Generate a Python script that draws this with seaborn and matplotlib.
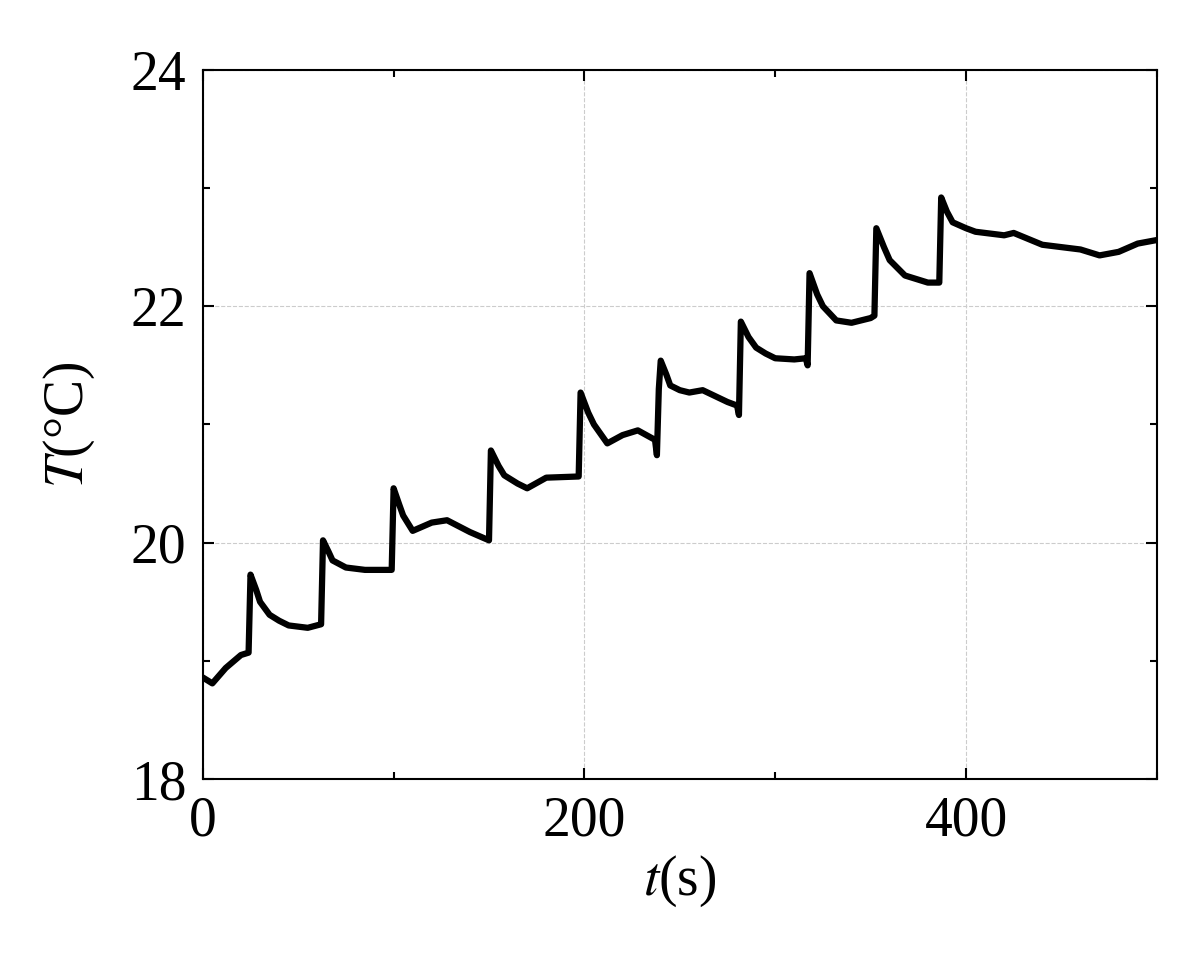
import matplotlib
matplotlib.use("Agg")
import matplotlib.pyplot as plt
import seaborn as sns
import pandas as pd
from matplotlib.ticker import MultipleLocator

t = [0,5,12,20,24,25,28,30,35,40,45,55,62,63,66,68,75,85,95,99,100,103,105,110,120,128,140,150,151,155,158,165,170,180,197,198,202,205,212,220,228,237,238,239,240,243,245,250,255,262,275,280,281,282,286,290,295,300,310,316,317,318,322,325,332,340,350,352,353,357,360,368,380,386,387,390,393,400,405,420,425,440,460,470,480,490,500]
T = [18.86,18.81,18.94,19.05,19.07,19.73,19.6,19.5,19.39,19.34,19.3,19.28,19.31,20.02,19.92,19.85,19.79,19.77,19.77,19.77,20.46,20.32,20.23,20.1,20.17,20.19,20.09,20.02,20.78,20.65,20.57,20.5,20.46,20.55,20.56,21.27,21.1,21.0,20.84,20.91,20.95,20.87,20.74,21.3,21.54,21.42,21.33,21.29,21.27,21.29,21.19,21.16,21.08,21.87,21.74,21.65,21.6,21.56,21.55,21.56,21.5,22.28,22.1,22.0,21.88,21.86,21.9,21.92,22.66,22.5,22.39,22.26,22.2,22.2,22.92,22.8,22.71,22.66,22.63,22.6,22.62,22.52,22.48,22.43,22.46,22.53,22.56]
df = pd.DataFrame({"t": t, "T": T})

sns.set_theme(style="ticks")
plt.rcParams["font.family"] = ["Liberation Serif", "DejaVu Serif"]
plt.rcParams["mathtext.fontset"] = "stix"
plt.rcParams["text.color"] = "black"
plt.rcParams["axes.labelcolor"] = "black"
plt.rcParams["xtick.color"] = "black"
plt.rcParams["ytick.color"] = "black"

fig = plt.figure(figsize=(12, 9.56), dpi=100)
ax = fig.add_axes([0.169, 0.185, 0.795, 0.742])
sns.lineplot(data=df, x="t", y="T", ax=ax, color="black", linewidth=4.5, sort=False, estimator=None)
ax.set_xlim(0, 500)
ax.set_ylim(18, 24)
ax.xaxis.set_major_locator(MultipleLocator(200))
ax.xaxis.set_minor_locator(MultipleLocator(100))
ax.yaxis.set_major_locator(MultipleLocator(2))
ax.yaxis.set_minor_locator(MultipleLocator(1))
ax.grid(True, which="major", linestyle="--", color="#cccccc", linewidth=0.8)
ax.tick_params(which="both", direction="in", top=True, right=True, labelsize=40, width=1.5)
ax.tick_params(which="major", length=8, pad=12)
ax.tick_params(which="minor", length=5)
for s in ax.spines.values():
    s.set_linewidth(1.5)
    s.set_color("black")
ax.set_xlabel(r"$t$(s)", fontsize=40, labelpad=4)
ax.set_ylabel(r"$T$(°C)", fontsize=40, labelpad=24)
fig.savefig("out.png", dpi=100)
